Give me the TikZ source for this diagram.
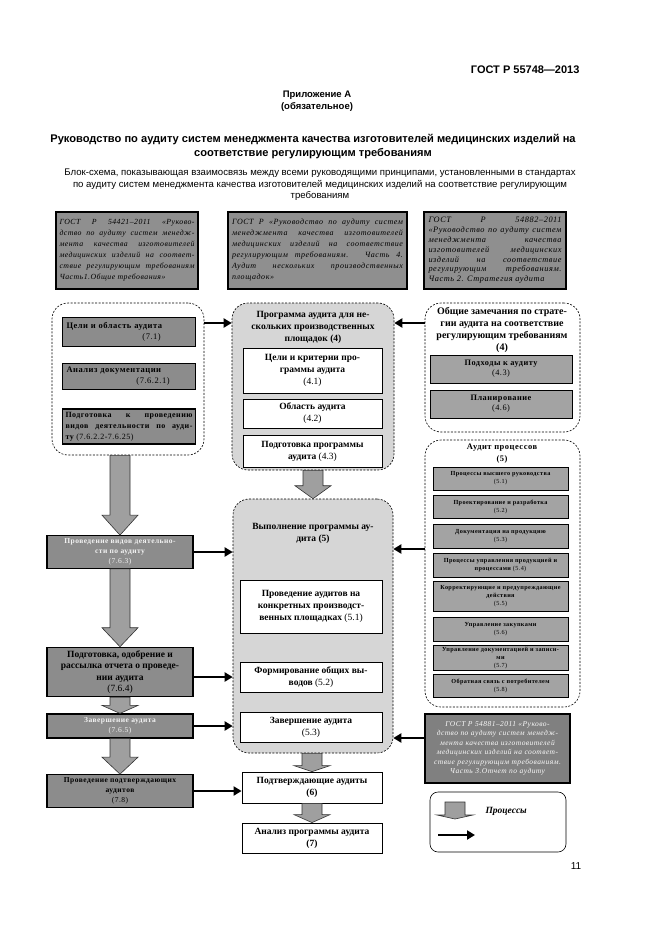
\documentclass[tikz,border=0pt]{standalone}
\usepackage{fontspec}
\setmainfont{Liberation Serif}
\newfontfamily\headfont{Liberation Sans}
\newfontfamily\widefont{Liberation Serif}[LetterSpace=6]
\newfontfamily\topfont{Liberation Serif}[LetterSpace=7]
\usetikzlibrary{arrows.meta,calc,shapes}
\definecolor{topgray}{gray}{0.56}
\definecolor{leftgray}{gray}{0.55}
\definecolor{groupgray}{gray}{0.84}
\definecolor{procgray}{gray}{0.64}
\definecolor{gostgray}{gray}{0.5}
\newcommand{\shafth}{10pt}
\newcommand{\headh}{18pt}
\newcommand{\procarrow}[3]{%
  \path[procar] let \p1=(#1.south), \p2=(#2.north) in
    (\x2-\shafth,\y1) -- (\x2+\shafth,\y1) -- (\x2+\shafth,\y2+#3)
    -- (\x2+\headh,\y2+#3) -- (\x2,\y2) -- (\x2-\headh,\y2+#3)
    -- (\x2-\shafth,\y2+#3) -- cycle;}

\begin{document}
\begin{tikzpicture}[x=1pt,y=-1pt]
    %\draw[help lines] (0,0) grid[step=50] (661,935);
    \path[fill=white,use as bounding box] (0,0) rectangle (661,935);
    \tikzset{
        topbox/.style={draw, line width=1.2pt, fill=topgray, inner sep=4pt,
            font=\fontsize{8.3}{11}\selectfont\topfont\itshape, align=justify},
        group/.style={draw, dashed, dash pattern=on 2pt off 1.5pt, rounded corners=16pt,
            line width=0.6pt},
        gtitle/.style={font=\fontsize{9.5}{12}\selectfont\bfseries, align=center, inner sep=0pt},
        whitebox/.style={draw, line width=0.8pt, fill=white, inner sep=2pt,
            font=\fontsize{9.5}{12}\selectfont\bfseries, align=center},
        leftbox/.style={draw, line width=1.2pt, fill=leftgray, inner sep=3pt,
            font=\fontsize{8.5}{11}\selectfont\widefont\bfseries, align=center},
        procbox/.style={draw, line width=1pt, fill=procgray, inner sep=2pt,
            font=\fontsize{6.2}{8}\selectfont\widefont\bfseries, align=center},
        procar/.style={draw=black!80, line width=0.6pt, fill=gray!75},
        conn/.style={line width=2.6pt, -{Triangle[length=8pt,width=9pt]}}
    }

    % header
    \node[font=\fontsize{11}{13}\selectfont\headfont\bfseries, anchor=east] (gost) at (583,70) {ГОСТ Р 55748—2013};
    \node[font=\fontsize{9.5}{12}\selectfont\headfont\bfseries, align=center] (app) at (317,101) {Приложение А\\(обязательное)};
    \node[font=\fontsize{11.1}{14}\selectfont\headfont\bfseries, align=center] (ttl) at (313,147)
        {Руководство по аудиту систем менеджмента качества изготовителей медицинских изделий на\\
         соответствие регулирующим требованиям};
    \node[font=\fontsize{9.6}{11.5}\selectfont\headfont, align=center] (sub) at (320,185)
        {Блок-схема, показывающая взаимосвязь между всеми руководящими принципами, установленными в стандартах\\
         по аудиту систем менеджмента качества изготовителей медицинских изделий на соответствие регулирующим\\
         требованиям};

    % standards on top
    \node[topbox, font=\fontsize{7.8}{11}\selectfont\widefont\itshape, inner sep=3pt, minimum width=142, minimum height=77, text width=135] (t1) at (127,250.5)
        {ГОСТ Р 54421–2011 «Руково-\linebreak дство по аудиту систем менедж-\linebreak мента качества изготовителей\linebreak
         медицинских изделий на соответ-\linebreak ствие регулирующим требованиям\linebreak Часть1.Общие требования»};
    \node[topbox, font=\fontsize{8}{11}\selectfont\topfont\itshape, minimum width=179, minimum height=77, text width=171] (t2) at (317.5,250.5)
        {ГОСТ Р «Руководство по аудиту систем\linebreak менеджмента качества изготовителей\linebreak медицинских изделий на соответствие\linebreak
         регулирующим требованиям. Часть 4.\linebreak Аудит нескольких производственных\linebreak площадок»};
    \node[topbox, font=\fontsize{8.3}{9.8}\selectfont\topfont\itshape, minimum width=142, minimum height=77, text width=133] (t3) at (495,250.5)
        {ГОСТ Р 54882–2011\linebreak «Руководство по аудиту систем\linebreak менеджмента качества\linebreak изготовителей медицинских\linebreak
         изделий на соответствие\linebreak регулирующим требованиям.\linebreak Часть 2. Стратегия аудита};

    % groups
    \node[group, minimum width=152, minimum height=152] (lg) at (128,379) {};
    \node[group, fill=groupgray, minimum width=162, minimum height=167] (cg1) at (313,386.5) {};
    \node[group, minimum width=155, minimum height=129] (rg1) at (502.5,367.5) {};
    \node[group, minimum width=155, minimum height=267] (rg2) at (502.5,573.5) {};
    \node[group, fill=groupgray, minimum width=160, minimum height=254] (cg2) at (313,626) {};

    % left group
    \node[leftbox, minimum width=133, minimum height=29, text width=125, align=left] (l1) at (129,332)
        {Цели и область аудита\\\hspace*{76pt}{\mdseries(7.1)}};
    \node[leftbox, minimum width=133, minimum height=26, text width=125, align=left] (l2) at (129,376.5)
        {Анализ документации\\\hspace*{70pt}{\mdseries(7.6.2.1)}};
    \node[leftbox, font=\fontsize{8}{11}\selectfont\widefont\bfseries, minimum width=133, minimum height=32, text width=127, align=justify] (l3) at (129,426.5)
        {Подготовка к проведению\linebreak видов деятельности по ауди-\linebreak ту {\mdseries(7.6.2.2-7.6.25)}};

    % audit programme
    \node[gtitle] (cg1t) at (313,327) {Программа аудита для не-\\скольких производственных\\площадок (4)};
    \node[whitebox, minimum width=139, minimum height=45] (c1) at (312.5,370.5) {Цели и критерии про-\\граммы аудита\\{\mdseries(4.1)}};
    \node[whitebox, minimum width=139, minimum height=29] (c2) at (312.5,413.5) {Область аудита\\{\mdseries(4.2)}};
    \node[whitebox, minimum width=139, minimum height=32] (c3) at (312.5,451) {Подготовка программы\\аудита {\mdseries(4.3)}};

    % strategy
    \node[gtitle, font=\fontsize{10}{12}\selectfont\bfseries] (rg1t) at (502,330) {Общие замечания по страте-\\гии аудита на соответствие\\регулирующим требованиям\\(4)};
    \node[procbox, font=\fontsize{8.3}{10}\selectfont\widefont\bfseries, minimum width=142, minimum height=28] (r1) at (501,369) {Подходы к аудиту\\{\mdseries(4.3)}};
    \node[procbox, font=\fontsize{8.3}{10}\selectfont\widefont\bfseries, minimum width=142, minimum height=28] (r2) at (501,404) {Планирование\\{\mdseries(4.6)}};

    % process audit
    \node[gtitle, font=\fontsize{8.5}{11.5}\selectfont\widefont\bfseries] (rg2t) at (502,453.5) {Аудит процессов\\(5)};
    \node[procbox, minimum width=135, minimum height=23] (p1) at (500.5,478.5) {Процессы высшего руководства\\{\mdseries(5.1)}};
    \node[procbox, minimum width=135, minimum height=23] (p2) at (500.5,506.5) {Проектирование и разработка\\{\mdseries(5.2)}};
    \node[procbox, minimum width=135, minimum height=24] (p3) at (500.5,536) {Документация на продукцию\\{\mdseries(5.3)}};
    \node[procbox, minimum width=135, minimum height=24] (p4) at (500.5,565) {Процессы управления продукцией и\\процессами {\mdseries(5.4)}};
    \node[procbox, minimum width=135, minimum height=30] (p5) at (500.5,596) {Корректирующие и предупреждающие\\действия\\{\mdseries(5.5)}};
    \node[procbox, minimum width=135, minimum height=24] (p6) at (500.5,629) {Управление закупками\\{\mdseries(5.6)}};
    \node[procbox, minimum width=135, minimum height=24] (p7) at (500.5,658) {Управление документацией и записи-\\ми\\{\mdseries(5.7)}};
    \node[procbox, minimum width=135, minimum height=23] (p8) at (500.5,685.5) {Обратная связь с потребителем\\{\mdseries(5.8)}};

    % execution
    \node[gtitle] (cg2t) at (313,533.5) {Выполнение программы ау-\\дита (5)};
    \node[whitebox, minimum width=142, minimum height=53] (e1) at (311,606.5) {Проведение аудитов на\\конкретных производст-\\венных площадках {\mdseries(5.1)}};
    \node[whitebox, minimum width=142, minimum height=30] (e2) at (311,677) {Формирование общих вы-\\водов {\mdseries(5.2)}};
    \node[whitebox, minimum width=142, minimum height=30] (e3) at (311,727) {Завершение аудита\\{\mdseries(5.3)}};
    \node[whitebox, minimum width=140, minimum height=31] (v) at (312,787.5) {Подтверждающие аудиты\\(6)};
    \node[whitebox, minimum width=140, minimum height=30] (a) at (312,838) {Анализ программы аудита\\(7)};

    % left column
    \node[leftbox, font=\fontsize{7.5}{10}\selectfont\widefont\bfseries, text=gray!10, minimum width=146, minimum height=32] (m1) at (120,552) {Проведение видов деятельно-\\сти по аудиту\\{\mdseries(7.6.3)}};
    \node[leftbox, font=\fontsize{9.5}{11.5}\selectfont\bfseries, minimum width=146, minimum height=48] (m2) at (120,672)
        {Подготовка, одобрение и\\рассылка отчета о проведе-\\нии аудита\\{\mdseries(7.6.4)}};
    \node[leftbox, font=\fontsize{7.5}{10}\selectfont\widefont\bfseries, text=gray!10, minimum width=146, minimum height=24] (m3) at (120,726) {Завершение аудита\\{\mdseries(7.6.5)}};
    \node[leftbox, font=\fontsize{7.5}{10}\selectfont\widefont\bfseries, minimum width=146, minimum height=32] (m4) at (120,791) {Проведение подтверждающих\\аудитов\\{\mdseries(7.8)}};

    % report standard
    \node[topbox, fill=gostgray, text=gray!5, align=center, font=\fontsize{7.5}{9.5}\selectfont\widefont\itshape,
        minimum width=145, minimum height=69, text width=137] (t4) at (497.5,748.5)
        {ГОСТ Р 54881–2011 «Руково-\\дство по аудиту систем менедж-\\мента качества изготовителей\\
         медицинских изделий на соответ-\\ствие регулирующим требованиям.\\Часть 3.Отчет по аудиту};

    % legend
    \node[draw, line width=0.6pt, rounded corners=8pt, minimum width=136, minimum height=60] (leg) at (498,822) {};
    \node[font=\fontsize{9.5}{11}\selectfont\bfseries\itshape, anchor=west] (legp) at (482,811) {Процессы};
    \coordinate (lgs) at (455,802);
    \coordinate (lgt) at (455,819);
    \coordinate (lcs) at (438,835);
    \coordinate (lct) at (475,835);

    % process arrows
    \procarrow{lg}{m1}{20pt}
    \procarrow{m1}{m2}{19pt}
    \procarrow{m2}{m3}{8pt}
    \procarrow{m3}{m4}{17pt}
    \procarrow{cg1}{cg2}{13pt}
    \procarrow{cg2}{v}{6pt}
    \procarrow{v}{a}{8pt}
    \path[procar] (lgs) ++(-10,0) -- ++(20,0) -- ++(0,13) -- ++(8,0) -- (lgt) -- ++(-18,-4) -- ++(8,0) -- cycle;

    % connections
    \draw[conn] ([yshift=56pt]lg.east) -- ([yshift=56pt]lg.east -| cg1.west);
    \draw[conn] ([yshift=44.5pt]rg1.west) -- ([yshift=44.5pt]rg1.west -| cg1.east);
    \draw[conn] ([yshift=24.5pt]rg2.west) -- ([yshift=24.5pt]rg2.west -| cg2.east);
    \draw[conn] ([yshift=10.5pt]t4.west) -- ([yshift=10.5pt]t4.west -| cg2.east);
    \draw[conn] (m1.east) -- (m1.east -| cg2.west);
    \draw[conn] ([yshift=-5pt]m2.east) -- ([yshift=-5pt]m2.east -| cg2.west);
    \draw[conn] (m3.east) -- (m3.east -| cg2.west);
    \draw[conn] (m4.east) -- (m4.east -| v.west);
    \draw[conn] (lcs) -- (lct);

    \node[font=\fontsize{10}{12}\selectfont\headfont] (pg) at (576,866) {11};
\end{tikzpicture}
\end{document}
